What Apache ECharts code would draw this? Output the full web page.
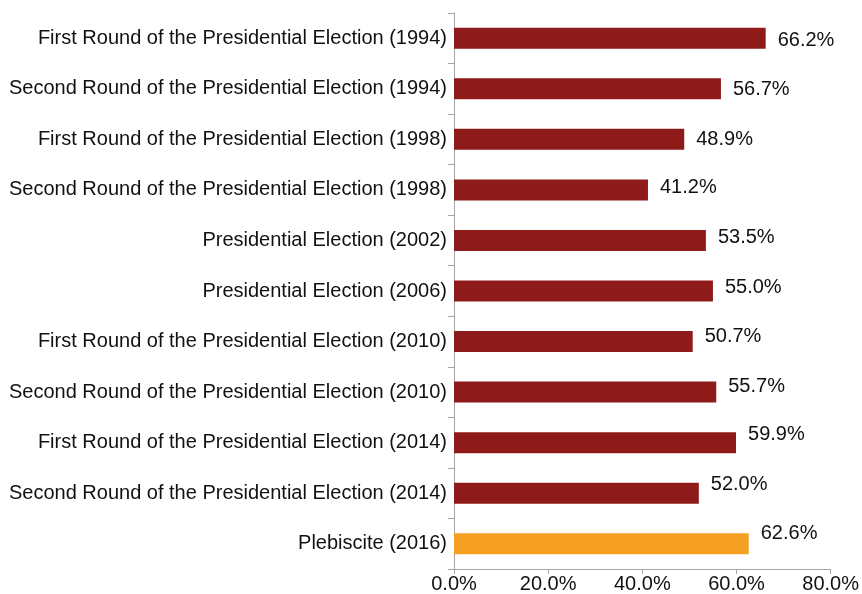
<!DOCTYPE html>
<html>
<head>
<meta charset="utf-8">
<script src="https://cdn.jsdelivr.net/npm/echarts@6/dist/echarts.min.js"></script>
<style>
  html, body { margin: 0; padding: 0; background: #fff; }
  #chart { width: 862px; height: 594px; }
</style>
</head>
<body>
<div id="chart"></div>
<script>
const elections = [
  'First Round of the Presidential Election (1994)',
  'Second Round of the Presidential Election (1994)',
  'First Round of the Presidential Election (1998)',
  'Second Round of the Presidential Election (1998)',
  'Presidential Election (2002)',
  'Presidential Election (2006)',
  'First Round of the Presidential Election (2010)',
  'Second Round of the Presidential Election (2010)',
  'First Round of the Presidential Election (2014)',
  'Second Round of the Presidential Election (2014)',
  'Plebiscite (2016)'
];
const abstention = [66.2, 56.7, 48.9, 41.2, 53.5, 55.0, 50.7, 55.7, 59.9, 52.0, 62.6];
const xTicks = [0, 20, 40, 60, 80];

const RED = '#8f1a1a';
const ORANGE = '#f5a023';
const FONT = '"Liberation Sans", Arial, sans-serif';

const chart = echarts.init(document.getElementById('chart'));

chart.setOption({
  animation: false,
  grid: { left: 454, right: 29, top: 13, bottom: 25, containLabel: false },
  xAxis: {
    type: 'value',
    min: xTicks[0],
    max: xTicks[xTicks.length - 1],
    interval: 20,
    axisLine: { show: true, lineStyle: { color: '#a6a6a6', width: 1 } },
    axisTick: { show: true, length: 5, lineStyle: { color: '#a6a6a6' } },
    splitLine: { show: false },
    axisLabel: {
      color: '#111',
      fontFamily: FONT,
      fontSize: 20,
      margin: 5,
      formatter: v => v.toFixed(1) + '%'
    }
  },
  yAxis: {
    type: 'category',
    inverse: true,
    data: elections,
    axisLine: { show: true, lineStyle: { color: '#a6a6a6', width: 1 } },
    axisTick: { show: true, length: 6, lineStyle: { color: '#a6a6a6' } },
    axisLabel: {
      color: '#111',
      fontFamily: FONT,
      fontSize: 20,
      margin: 7
    }
  },
  series: [
    {
      type: 'bar',
      barWidth: 21,
      data: abstention.map((v, i) => ({
        value: v,
        itemStyle: { color: i === abstention.length - 1 ? ORANGE : RED },
        // excel-style labels drift upward a bit further down the list
        label: { offset: [0, Math.round(2 - 1.2 * i)] }
      })),
      label: {
        show: true,
        position: 'right',
        distance: 12,
        color: '#111',
        fontFamily: FONT,
        fontSize: 20,
        formatter: p => p.value.toFixed(1) + '%'
      }
    }
  ]
});
</script>
</body>
</html>
